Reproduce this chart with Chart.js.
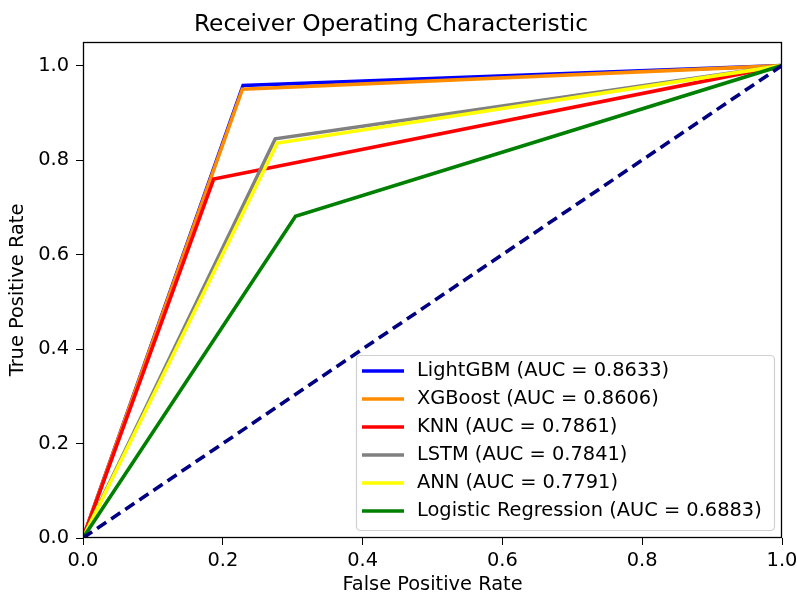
<!DOCTYPE html>
<html>
<head>
<meta charset="utf-8">
<script src="https://cdn.jsdelivr.net/npm/chart.js@4.4.1/dist/chart.umd.min.js"></script>
<style>
  body { margin: 0; background: #fff; }
  canvas { display: block; }
</style>
</head>
<body>
<canvas id="roc" width="797" height="595"></canvas>
<script>
// ROC points (fpr, tpr), one corner per model
const models = ['LightGBM', 'XGBoost', 'KNN', 'LSTM', 'ANN', 'Logistic Regression'];
const aucs = ['0.8633', '0.8606', '0.7861', '0.7841', '0.7791', '0.6883'];
const colors = ['#0000ff', '#ff8c00', '#ff0000', '#808080', '#ffff00', '#008000'];

const fprLightGBM = [0, 0.229, 1];
const tprLightGBM = [0, 0.958, 1];
const fprXGBoost = [0, 0.228, 1];
const tprXGBoost = [0, 0.950, 1];
const fprKNN = [0, 0.187, 1];
const tprKNN = [0, 0.760, 1];
const fprLSTM = [0, 0.275, 1];
const tprLSTM = [0, 0.845, 1];
const fprANN = [0, 0.278, 1];
const tprANN = [0, 0.836, 1];
const fprLR = [0, 0.304, 1];
const tprLR = [0, 0.681, 1];

const fprChance = [0, 1];
const tprChance = [0, 1];

const xTicks = [0, 0.2, 0.4, 0.6, 0.8, 1.0];
const yTicks = [0, 0.2, 0.4, 0.6, 0.8, 1.0];

const FONT = 'DejaVu Sans';
const FS = 19.4;   // 10pt at this figure's scale
const FS_TITLE = 23.3;

function toPoints(xs, ys) {
    return xs.map((x, i) => ({x: x, y: ys[i]}));
}

const curves = [
    [fprLightGBM, tprLightGBM],
    [fprXGBoost, tprXGBoost],
    [fprKNN, tprKNN],
    [fprLSTM, tprLSTM],
    [fprANN, tprANN],
    [fprLR, tprLR]
];

const datasets = curves.map((c, i) => ({
    label: models[i] + ' (AUC = ' + aucs[i] + ')',
    data: toPoints(c[0], c[1]),
    showLine: true,
    borderColor: colors[i],
    backgroundColor: colors[i],
    borderWidth: 3.6,
    pointRadius: 0,
    tension: 0,
    order: 10 - i   // later curves drawn on top, like matplotlib
}));

datasets.push({
    label: '_chance',
    data: toPoints(fprChance, tprChance),
    showLine: true,
    borderColor: '#000080',
    borderWidth: 3.6,
    borderDash: [11, 6],
    pointRadius: 0,
    order: 0
});

// frame + legend box in the lower right, drawn inside the plot like matplotlib
const framePlugin = {
    id: 'frameAndLegend',
    afterDatasetsDraw(chart) {
        const ctx = chart.ctx;
        const a = chart.chartArea;
        ctx.save();
        ctx.strokeStyle = '#000';
        ctx.lineWidth = 1.3;
        ctx.strokeRect(Math.round(a.left) + 0.5, Math.round(a.top) + 0.5,
            Math.round(a.right - a.left) - 1, Math.round(a.bottom - a.top) - 1);

        const items = chart.data.datasets.filter(d => d.label[0] !== '_');
        const boxW = 418, rowH = 28, boxH = 175;
        const bx = a.right - 8 - boxW;
        const by = a.bottom - 8 - boxH;
        ctx.beginPath();
        ctx.roundRect(bx + 0.5, by + 0.5, boxW, boxH, 4);
        ctx.fillStyle = 'rgba(255,255,255,0.8)';
        ctx.fill();
        ctx.strokeStyle = '#d0d0d0';
        ctx.lineWidth = 1.2;
        ctx.stroke();

        ctx.font = FS + 'px "' + FONT + '"';
        ctx.textBaseline = 'middle';
        ctx.textAlign = 'left';
        items.forEach((d, i) => {
            const y = by + 16 + i * rowH;
            ctx.beginPath();
            ctx.moveTo(bx + 6, y);
            ctx.lineTo(bx + 48, y);
            ctx.strokeStyle = d.borderColor;
            ctx.lineWidth = 3.6;
            ctx.stroke();
            ctx.fillStyle = '#000';
            ctx.fillText(d.label, bx + 61, y);
        });
        ctx.restore();
    }
};

new Chart(document.getElementById('roc'), {
    type: 'scatter',
    data: {datasets: datasets},
    plugins: [framePlugin],
    options: {
        responsive: false,
        animation: false,
        devicePixelRatio: 1,
        layout: {padding: {left: 0, right: 15, top: 0, bottom: 0}},
        plugins: {
            legend: {display: false},
            tooltip: {enabled: false},
            title: {
                display: true,
                text: 'Receiver Operating Characteristic',
                color: '#000',
                font: {family: FONT, size: FS_TITLE, weight: 'normal'},
                padding: {top: 11, bottom: 3}
            }
        },
        scales: {
            x: {
                type: 'linear',
                min: 0,
                max: 1,
                afterBuildTicks: s => { s.ticks = xTicks.map(v => ({value: v})); },
                afterFit: s => { s.height = 57; s.paddingLeft = 0; s.paddingRight = 0; },
                ticks: {
                    color: '#000',
                    font: {family: FONT, size: FS},
                    padding: 4,
                    maxRotation: 0,
                    callback: v => v.toFixed(1)
                },
                grid: {drawOnChartArea: false, drawTicks: true, tickLength: 7, color: '#000'},
                border: {display: false},
                title: {
                    display: true,
                    text: 'False Positive Rate',
                    color: '#000',
                    font: {family: FONT, size: FS},
                    padding: {top: 0, bottom: -2}
                }
            },
            y: {
                type: 'linear',
                min: 0,
                max: 1.05,
                afterBuildTicks: s => { s.ticks = yTicks.map(v => ({value: v})); },
                afterFit: s => { s.width = 83; s.paddingTop = 0; s.paddingBottom = 0; },
                ticks: {
                    color: '#000',
                    font: {family: FONT, size: FS},
                    padding: 7,
                    callback: v => v.toFixed(1)
                },
                grid: {drawOnChartArea: false, drawTicks: true, tickLength: 7, color: '#000'},
                border: {display: false},
                title: {
                    display: true,
                    text: 'True Positive Rate',
                    color: '#000',
                    font: {family: FONT, size: FS},
                    padding: {top: 6, bottom: 0}
                }
            }
        }
    }
});
</script>
</body>
</html>
